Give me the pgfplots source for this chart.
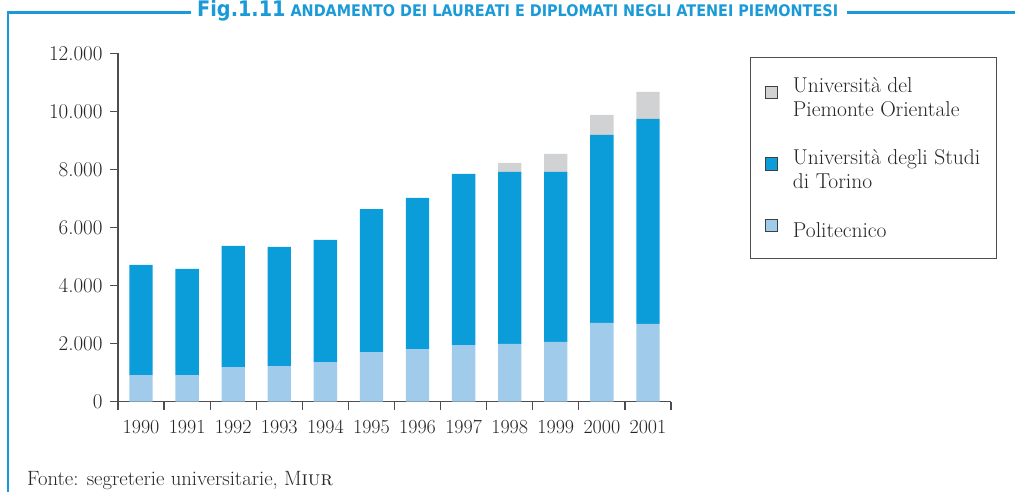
\documentclass[border=0pt]{standalone}
\usepackage{fontspec}
\usepackage{pgfplots}
\pgfplotsset{compat=1.18}
\newfontfamily\titlefont{DejaVu Sans}[FakeStretch=0.9]
\definecolor{frameblue}{HTML}{1A9AD6}
\definecolor{cgrey}{HTML}{D1D2D4}
\definecolor{cblue}{HTML}{0B9DD9}
\definecolor{clight}{HTML}{A0CBEB}
\definecolor{axgrey}{HTML}{4D4D4F}

\pgfplotstableread{
x poli torino piemonte
0 919 3790 0
1 919 3652 0
2 1194 4170 0
3 1228 4101 0
4 1366 4204 0
5 1711 4925 0
6 1814 5203 0
7 1952 5892 0
8 1988 5924 310
9 2057 5855 621
10 2711 6476 689
11 2677 7061 930
}\datatable

\begin{document}
\begin{tikzpicture}[x=1pt,y=1pt]
\useasboundingbox (0,0) rectangle (1015,492);
\draw[frameblue, line width=2.6pt] (191,479.7) -- (8,479.7) -- (8,0);
\draw[frameblue, line width=2.6pt] (847,479.7) -- (1015,479.7);
\node[anchor=base west, text=frameblue, inner sep=0] at (197,475.3)
  {\titlefont\bfseries\fontsize{21.4}{21.4}\selectfont Fig.1.11\hspace{5pt}\fontsize{16}{16}\selectfont ANDAMENTO DEI LAUREATI E DIPLOMATI NEGLI ATENEI PIEMONTESI};
\node[anchor=base west, inner sep=0, text=black!85] at (27,6)
  {\fontsize{20.7}{20.7}\selectfont Fonte: segreterie universitarie, M\textsc{iur}};
\begin{axis}[
  at={(118pt,90.3pt)}, anchor=south west,
  scale only axis, width=553pt, height=348.4pt,
  xmin=-0.5, xmax=11.5, ymin=0, ymax=12000,
  ybar stacked, bar width=23.3pt,
  axis lines*=left,
  axis line style={axgrey, line width=1.3pt},
  tick align=outside,
  xtick={0,...,11},
  xticklabels={1990,1991,1992,1993,1994,1995,1996,1997,1998,1999,2000,2001},
  minor xtick={-0.5,0.5,...,11.5},
  ytick={0,2000,...,12000},
  minor ytick={0,2000,...,12000},
  major tick length=0pt,
  minor tick length=8pt,
  tick style={axgrey, line width=1.2pt},
  scaled y ticks=false,
  /pgf/number format/.cd, 1000 sep={.}, min exponent for 1000 sep=0, assume math mode=true,
  /pgfplots/.cd,
  xticklabel style={font=\fontsize{20}{20}\selectfont, text=black!85, yshift=-15pt},
  yticklabel style={font=\fontsize{21}{21}\selectfont, text=black!85, xshift=-12pt},
  reverse legend,
  legend style={at={(1.1429,0.989)}, anchor=north west, draw=axgrey, line width=1pt,
    font=\fontsize{21.5}{24}\selectfont, text=black!85,
    cells={anchor=west, align=left}, row sep=27pt, column sep=13pt,
    inner xsep=14pt, inner ysep=18pt},
  legend image code/.code={\draw[#1, draw=black!75, line width=0.9pt] (0pt,-1pt) rectangle (12.5pt,11.5pt);},
]
\addplot[fill=clight, draw=none] table[x=x, y=poli] {\datatable};
\addplot[fill=cblue, draw=none] table[x=x, y=torino] {\datatable};
\addplot[fill=cgrey, draw=none] table[x=x, y=piemonte] {\datatable};
\legend{Politecnico, Università degli Studi\\di Torino, Università del\\Piemonte Orientale}
\end{axis}
\end{tikzpicture}
\end{document}
